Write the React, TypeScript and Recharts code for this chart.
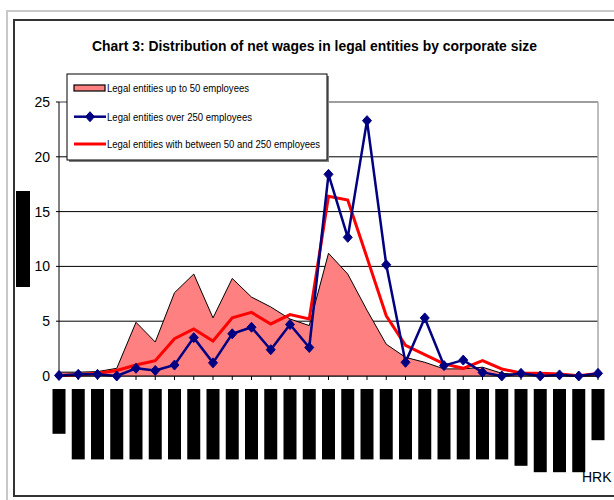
import React from 'react';
import {
  ComposedChart,
  Area,
  Line,
  XAxis,
  YAxis,
  CartesianGrid,
  Legend,
  ReferenceLine,
  Label,
} from 'recharts';

// ---- data ----
const wageClasses = [
  '< 1.000',
  '1.000-1.250', '1.250-1.500', '1.500-1.750', '1.750-2.000',
  '2.000-2.250', '2.250-2.500', '2.500-2.750', '2.750-3.000',
  '3.000-3.250', '3.250-3.500', '3.500-3.750', '3.750-4.000',
  '4.000-4.250', '4.250-4.500', '4.500-4.750', '4.750-5.000',
  '5.000-5.250', '5.250-5.500', '5.500-5.750', '5.750-6.000',
  '6.000-6.250', '6.250-6.500', '6.500-6.750',
  '6.750-10.000', '10.000-12.500', '12.500-15.000', '15.000-20.000',
  '> 20.000',
];

const upTo50 = [
  0.35, 0.35, 0.4, 0.7, 4.9, 3.1, 7.6, 9.3, 5.3, 8.9, 7.2, 6.3, 5.2, 4.6,
  11.2, 9.3, 6.0, 2.9, 1.7, 1.25, 0.65, 0.65, 0.8, 0.25, 0.12, 0.06, 0.06, 0, 0,
];

const over250 = [
  0.05, 0.15, 0.15, 0.0, 0.7, 0.5, 1.0, 3.5, 1.2, 3.85, 4.45, 2.4, 4.7, 2.6,
  18.4, 12.65, 23.3, 10.15, 1.25, 5.3, 0.95, 1.45, 0.33, 0, 0.24, 0, 0.1, 0, 0.24,
];

const between50and250 = [
  0.05, 0.1, 0.25, 0.5, 1.0, 1.4, 3.4, 4.3, 3.2, 5.3, 5.8, 4.75, 5.6, 5.2,
  16.4, 16.05, 10.8, 5.5, 2.8, 1.95, 1.1, 0.7, 1.4, 0.64, 0.27, 0.24, 0.18, 0.03, 0.24,
];

const seriesNames = [
  'Legal entities up to 50 employees',
  'Legal entities over 250 employees',
  'Legal entities with between 50 and 250 employees',
];

const yTicks = [0, 5, 10, 15, 20, 25];
const chartTitle = 'Chart 3: Distribution of net wages in legal entities by corporate size';
const yAxisTitle = 'Employees, in %';
const unitLabel = 'HRK';

const data = wageClasses.map((cls, i) => ({
  cls,
  small: upTo50[i],
  large: over250[i],
  medium: between50and250[i],
}));

// ---- styles ----
const FONT = '"Liberation Sans", Arial, sans-serif';
const CHAR_W = 6.4;
const PINK = '#FF8080';
const NAVY = '#000080';
const RED = '#FF0000';

// redacted (blacked-out) rotated category label
const RedactedTick = (props: any) => {
  const { x, y, payload } = props;
  const s = String(payload?.value ?? '');
  const len = s.length * CHAR_W;
  return (
    <g transform={`translate(${x},${y + 7})`}>
      <rect x={-6.5} y={0} width={13} height={len} fill="#000" />
      <text
        transform="rotate(-90)"
        x={-len + 2}
        y={4}
        fontSize={10}
        fill="#000"
        fontFamily={FONT}
      >
        {s}
      </text>
    </g>
  );
};

const Diamond = (props: any) => {
  const { cx, cy } = props;
  if (cx == null || cy == null) return null;
  const hw = 4.5;
  const hh = 5;
  return (
    <polygon
      points={`${cx},${cy - hh} ${cx + hw},${cy} ${cx},${cy + hh} ${cx - hw},${cy}`}
      fill={NAVY}
      stroke={NAVY}
      strokeWidth={1}
    />
  );
};

const YTitle = (props: any) => {
  const vb = props.viewBox || { x: 14, y: 102, width: 45, height: 274 };
  const len = yAxisTitle.length * CHAR_W;
  const cx = vb.x + 9;
  const cy = vb.y + vb.height / 2;
  return (
    <g>
      <rect x={cx - 7} y={cy - len / 2} width={14} height={len} fill="#000" />
      <text
        transform={`translate(${cx + 4},${cy + len / 2 - 2}) rotate(-90)`}
        fontSize={10}
        fill="#000"
        fontFamily={FONT}
      >
        {yAxisTitle}
      </text>
    </g>
  );
};

const UnitLabel = (props: any) => {
  const vb = props.viewBox || { x: 59, y: 376, width: 539, height: 100 };
  return (
    <text
      x={vb.x + vb.width - 16}
      y={vb.y + 106}
      fontSize={14}
      fill="#000"
      fontFamily={FONT}
    >
      {unitLabel}
    </text>
  );
};

const LegendBox = () => {
  const rows = [15, 43.7, 71];
  const widths = [142, 145, 213];
  return (
    <svg width={266} height={94} style={{ display: 'block', overflow: 'visible' }}>
      <rect x={3} y={3} width={260} height={86} fill="#808080" />
      <rect x={1} y={1} width={260} height={86} fill="#fff" stroke="#000" strokeWidth={1} />
      {/* series 1: area */}
      <rect x={8} y={rows[0] - 3} width={31} height={6} fill={PINK} stroke="#000" strokeWidth={1.2} />
      {/* series 2: navy line w/ diamond */}
      <line x1={8} y1={rows[1]} x2={40} y2={rows[1]} stroke={NAVY} strokeWidth={2.5} />
      <Diamond cx={24} cy={rows[1]} />
      {/* series 3: red line */}
      <line x1={8} y1={rows[2]} x2={40} y2={rows[2]} stroke={RED} strokeWidth={3} />
      {seriesNames.map((n, i) => (
        <text
          key={n}
          x={41}
          y={rows[i] + 4}
          fontSize={11}
          fill="#000"
          fontFamily={FONT}
          textLength={widths[i]}
          lengthAdjust="spacingAndGlyphs"
        >
          {n}
        </text>
      ))}
    </svg>
  );
};

export default function App() {
  return (
    <div
      style={{
        position: 'absolute',
        left: 0,
        top: 0,
        width: 614,
        height: 500,
        overflow: 'hidden',
        background: '#fff',
      }}
    >
      {/* outer frames */}
      <div
        style={{
          position: 'absolute',
          left: 6,
          top: 10,
          width: 700,
          height: 600,
          boxSizing: 'border-box',
          border: '2px solid #c8c8c8',
        }}
      />
      <div
        style={{
          position: 'absolute',
          left: 13,
          top: 19,
          width: 700,
          height: 478,
          boxSizing: 'border-box',
          border: '2px solid #333',
        }}
      />
      <div style={{ position: 'absolute', left: 0, top: 0 }}>
        <ComposedChart
          width={614}
          height={500}
          data={data}
          margin={{ top: 102, right: 16, bottom: 24, left: 14 }}
        >
          <CartesianGrid vertical={false} stroke="#000" strokeWidth={1} />
          <ReferenceLine y={25} stroke="#a8a8a8" strokeWidth={1.5} />
          <ReferenceLine x={wageClasses[wageClasses.length - 1]} stroke="#a8a8a8" strokeWidth={1.5} />
          <XAxis
            dataKey="cls"
            scale="point"
            padding={{ left: 0, right: 0 }}
            interval={0}
            tick={<RedactedTick />}
            tickSize={4}
            tickLine={{ stroke: '#000' }}
            axisLine={{ stroke: '#000' }}
            height={100}
          >
            <Label content={<UnitLabel />} />
          </XAxis>
          <YAxis
            domain={[0, 25]}
            ticks={yTicks}
            interval={0}
            width={45}
            tickSize={3}
            tickMargin={6}
            tick={{ fill: '#000', fontSize: 14, fontFamily: FONT }}
            tickLine={{ stroke: '#000' }}
            axisLine={{ stroke: '#000' }}
          >
            <Label content={<YTitle />} />
          </YAxis>
          <Legend
            layout="horizontal"
            verticalAlign="middle"
            align="center"
            content={<LegendBox />}
            wrapperStyle={{ left: 66, top: 73, width: 266, height: 94 }}
          />
          <Area
            type="linear"
            dataKey="small"
            name={seriesNames[0]}
            stroke="#000"
            strokeWidth={1}
            fill={PINK}
            fillOpacity={1}
            dot={false}
            activeDot={false}
            isAnimationActive={false}
          />
          <Line
            type="linear"
            dataKey="medium"
            name={seriesNames[2]}
            stroke={RED}
            strokeWidth={3}
            dot={false}
            activeDot={false}
            isAnimationActive={false}
          />
          <Line
            type="linear"
            dataKey="large"
            name={seriesNames[1]}
            stroke={NAVY}
            strokeWidth={2.5}
            dot={(p: any) => <Diamond key={`d-${p.index}`} cx={p.cx} cy={p.cy} />}
            activeDot={false}
            isAnimationActive={false}
          />
        </ComposedChart>
      </div>
      <svg
        width={614}
        height={500}
        style={{ position: 'absolute', left: 0, top: 0, pointerEvents: 'none' }}
      >
        <text
          x={92}
          y={51}
          fontSize={14.5}
          fontWeight="bold"
          fill="#000"
          fontFamily={FONT}
          textLength={445}
          lengthAdjust="spacingAndGlyphs"
        >
          {chartTitle}
        </text>
      </svg>
    </div>
  );
}
